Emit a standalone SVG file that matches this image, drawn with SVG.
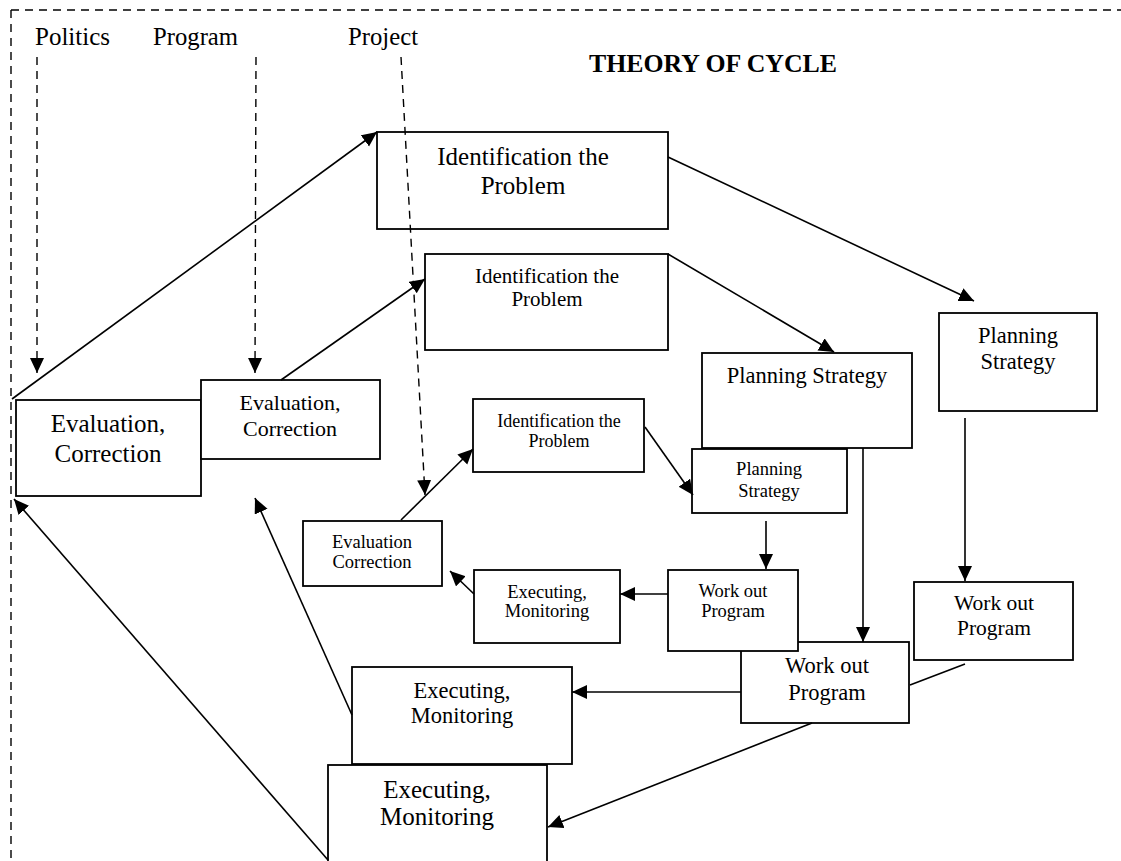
<svg xmlns="http://www.w3.org/2000/svg" width="1121" height="861" viewBox="0 0 1121 861">
<style>
  text { font-family: "Liberation Serif", "Times New Roman", serif; fill: #000; text-anchor: middle; }
  .lbl { text-anchor: start; font-size: 24.5px; }
  .title { font-weight: bold; font-size: 25px; text-anchor: start; }
  .box { fill: #fff; stroke: #000; stroke-width: 1.8; }
  .ln { fill: none; stroke: #000; stroke-width: 1.6; }
  .arr { marker-end: url(#ah); }
  .dash { fill: none; stroke: #000; stroke-width: 1.4; stroke-dasharray: 8 6; }
  .s25 { font-size: 25px; }
  .s22 { font-size: 22.5px; }
  .s21 { font-size: 21px; }
  .s18 { font-size: 18.5px; }
</style>
<defs>
  <marker id="ah" markerUnits="userSpaceOnUse" markerWidth="17" markerHeight="15" refX="15" refY="7" orient="auto">
    <path d="M0,0 L15,7 L0,14 z" fill="#000"/>
  </marker>
</defs>
<rect width="1121" height="861" fill="#fff"/>

<g id="frame">
  <line class="dash" x1="11" y1="10" x2="1121" y2="10"/>
  <line class="dash" x1="11" y1="10" x2="11" y2="861"/>
</g>

<g id="labels">
  <text class="lbl" x="35" y="45" textLength="75" lengthAdjust="spacingAndGlyphs">Politics</text>
  <text class="lbl" x="153" y="45" textLength="85" lengthAdjust="spacingAndGlyphs">Program</text>
  <text class="lbl" x="348" y="45" textLength="70" lengthAdjust="spacingAndGlyphs">Project</text>
  <text class="title" x="589" y="72" textLength="248" lengthAdjust="spacingAndGlyphs">THEORY OF CYCLE</text>
</g>

<g id="node-id1">
  <rect class="box" x="377" y="132" width="291" height="97"/>
  <text class="s25" x="523" y="165">Identification the</text>
  <text class="s25" x="523" y="194">Problem</text>
</g>
<g id="node-id2">
  <rect class="box" x="425" y="254" width="243" height="96"/>
  <text class="s21" x="547" y="283">Identification the</text>
  <text class="s21" x="547" y="306">Problem</text>
</g>
<g id="node-id3">
  <rect class="box" x="473" y="399" width="171" height="73"/>
  <text font-size="18" x="559" y="427">Identification the</text>
  <text font-size="18" x="559" y="447">Problem</text>
</g>

<g id="node-ps1">
  <rect class="box" x="939" y="313" width="158" height="98"/>
  <text class="s22" x="1018" y="343">Planning</text>
  <text class="s22" x="1018" y="369">Strategy</text>
</g>
<g id="node-ps2">
  <rect class="box" x="702" y="353" width="210" height="95"/>
  <text class="s22" x="807" y="383">Planning Strategy</text>
</g>
<g id="node-ps3">
  <rect class="box" x="692" y="449" width="155" height="64"/>
  <text class="s18" x="769" y="475">Planning</text>
  <text class="s18" x="769" y="497">Strategy</text>
</g>

<g id="node-wp1">
  <rect class="box" x="914" y="582" width="159" height="78"/>
  <text font-size="21.5" x="994" y="610">Work out</text>
  <text font-size="21.5" x="994" y="635">Program</text>
</g>
<g id="node-wp2">
  <rect class="box" x="741" y="642" width="168" height="81"/>
  <text class="s22" x="827" y="673">Work out</text>
  <text class="s22" x="827" y="700">Program</text>
</g>
<g id="node-wp3">
  <rect class="box" x="668" y="570" width="130" height="81"/>
  <text class="s18" x="733" y="597">Work out</text>
  <text class="s18" x="733" y="617">Program</text>
</g>

<g id="node-em2">
  <rect class="box" x="352" y="667" width="220" height="97"/>
  <text class="s22" x="462" y="698">Executing,</text>
  <text class="s22" x="462" y="723">Monitoring</text>
</g>
<g id="node-em1">
  <rect class="box" x="328" y="765" width="219" height="110"/>
  <text class="s25" x="437" y="798">Executing,</text>
  <text class="s25" x="437" y="825">Monitoring</text>
</g>
<g id="node-em3">
  <rect class="box" x="474" y="570" width="146" height="73"/>
  <text class="s18" x="547" y="598">Executing,</text>
  <text class="s18" x="547" y="617">Monitoring</text>
</g>

<g id="node-ec1">
  <rect class="box" x="16" y="400" width="185" height="96"/>
  <text class="s25" x="108" y="432">Evaluation,</text>
  <text class="s25" x="108" y="462">Correction</text>
</g>
<g id="node-ec2">
  <rect class="box" x="201" y="380" width="179" height="79"/>
  <text font-size="22" x="290" y="410">Evaluation,</text>
  <text font-size="22" x="290" y="436">Correction</text>
</g>
<g id="node-ec3">
  <rect class="box" x="303" y="521" width="139" height="65"/>
  <text class="s18" x="372" y="548">Evaluation</text>
  <text class="s18" x="372" y="568">Correction</text>
</g>

<g id="connectors">
  <!-- dashed inputs -->
  <line class="dash arr" x1="37" y1="57" x2="37" y2="373"/>
  <line class="dash arr" x1="256" y1="57" x2="255" y2="373"/>
  <line class="dash arr" x1="401" y1="57" x2="425" y2="495"/>
  <!-- outer cycle (Politics) -->
  <line class="ln arr" x1="12" y1="399" x2="377" y2="132"/>
  <line class="ln arr" x1="668" y1="157" x2="974" y2="301"/>
  <line class="ln arr" x1="965" y1="418" x2="965" y2="581"/>
  <line class="ln" x1="965" y1="664" x2="910" y2="685"/>
  <line class="ln arr" x1="812" y1="723" x2="548" y2="827"/>
  <line class="ln arr" x1="328" y1="860" x2="14" y2="499"/>
  <!-- middle cycle (Program) -->
  <line class="ln arr" x1="281" y1="380" x2="425" y2="279"/>
  <line class="ln arr" x1="668" y1="254" x2="834" y2="352"/>
  <line class="ln arr" x1="863" y1="448" x2="863" y2="642"/>
  <line class="ln arr" x1="741" y1="692" x2="572" y2="692"/>
  <line class="ln arr" x1="352" y1="715" x2="255" y2="498"/>
  <!-- inner cycle (Project) -->
  <line class="ln arr" x1="401" y1="520" x2="473" y2="449"/>
  <line class="ln arr" x1="645" y1="427" x2="693" y2="495"/>
  <line class="ln arr" x1="766" y1="521" x2="766" y2="569"/>
  <line class="ln arr" x1="668" y1="594" x2="620" y2="594"/>
  <line class="ln arr" x1="474" y1="594" x2="450" y2="571"/>
</g>
</svg>
